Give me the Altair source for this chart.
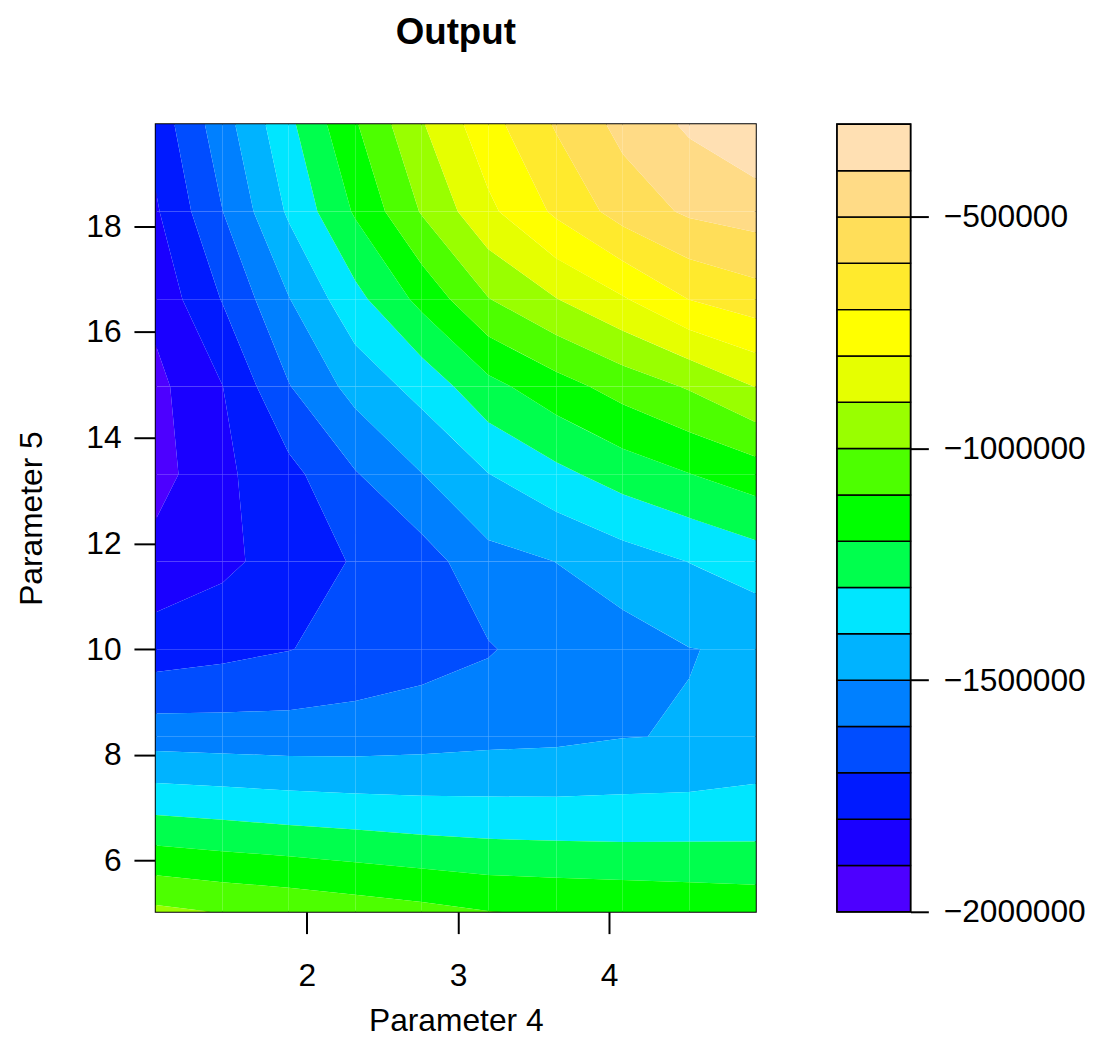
import altair as alt
import pandas as pd

# ---- data (10 x 10 grid) ----
x_vals = [1.00, 1.44, 1.88, 2.32, 2.76, 3.20, 3.65, 4.09, 4.53, 4.97]
y_vals = [5.03, 6.69, 8.34, 10.00, 11.66, 13.31, 14.97, 16.62, 18.28, 19.93]

# z_rows[j][i] : value at (x_vals[i], y_vals[j]), j = 0 is the bottom row
z_row0 = [-977000, -1005000, -1023000, -1048000, -1071000, -1098000, -1108000, -1116000, -1127000, -1138000]
z_row1 = [-1272000, -1287000, -1303000, -1317000, -1332000, -1341000, -1345000, -1347000, -1344000, -1340000]
z_row2 = [-1544000, -1550000, -1555000, -1553000, -1542000, -1528000, -1521000, -1502400, -1496000, -1470000]
z_row3 = [-1755000, -1730000, -1703000, -1668000, -1640000, -1608000, -1550000, -1545000, -1502000, -1490000]
z_row4 = [-1862000, -1823000, -1757000, -1691000, -1645000, -1532000, -1499000, -1445000, -1398000, -1348000]
z_row5 = [-1941000, -1821000, -1730000, -1607000, -1502000, -1402000, -1325000, -1257000, -1202000, -1150000]
z_row6 = [-1927000, -1802000, -1605000, -1464000, -1365000, -1230000, -1140000, -1060000, -990000, -897000]
z_row7 = [-1870000, -1695000, -1504000, -1330000, -1171000, -1004000, -903000, -810000, -698000, -645000]
z_row8 = [-1812000, -1602000, -1385000, -1188000, -992000, -822000, -682000, -558000, -484000, -455000]
z_row9 = [-1761000, -1543000, -1323000, -1109000, -908000, -736000, -590000, -470000, -384000, -310000]
z_rows = [z_row0, z_row1, z_row2, z_row3, z_row4, z_row5, z_row6, z_row7, z_row8, z_row9]

levels = [-2000000 + 100000 * k for k in range(18)]
band_colors = ["#4D00FF", "#1A00FF", "#001AFF", "#004DFF", "#0080FF", "#00B3FF",
               "#00E6FF", "#00FF4D", "#00FF00", "#4DFF00", "#99FF00", "#E6FF00",
               "#FFFF00", "#FFEA2D", "#FFDE59", "#FFDB86", "#FFE0B3"]
key_ticks = [-2000000, -1500000, -1000000, -500000]
x_ticks = [2, 3, 4]
y_ticks = [6, 8, 10, 12, 14, 16, 18]

FONT = "Liberation Sans"


def clip(poly, level, keep_above):
    out = []
    n = len(poly)
    for k in range(n):
        cur = poly[k]
        nxt = poly[(k + 1) % n]
        cin = cur[2] >= level if keep_above else cur[2] <= level
        nin = nxt[2] >= level if keep_above else nxt[2] <= level
        if cin:
            out.append(cur)
        if cin != nin:
            t = (level - cur[2]) / (nxt[2] - cur[2])
            out.append((cur[0] + t * (nxt[0] - cur[0]), cur[1] + t * (nxt[1] - cur[1]), level))
    return out


def poly_area(p):
    s = 0.0
    for k in range(len(p)):
        a, b = p[k], p[(k + 1) % len(p)]
        s += a[0] * b[1] - b[0] * a[1]
    return abs(s) / 2


rows = []
pid = 0
for j in range(len(y_vals) - 1):
    for i in range(len(x_vals) - 1):
        cell = [(x_vals[i], y_vals[j], z_rows[j][i]),
                (x_vals[i + 1], y_vals[j], z_rows[j][i + 1]),
                (x_vals[i + 1], y_vals[j + 1], z_rows[j + 1][i + 1]),
                (x_vals[i], y_vals[j + 1], z_rows[j + 1][i])]
        for k in range(len(levels) - 1):
            p = clip(cell, levels[k], True)
            if len(p) < 3:
                continue
            p = clip(p, levels[k + 1], False)
            if len(p) < 3 or poly_area(p) < 1e-9:
                continue
            xs = sorted(set(round(v[0], 9) for v in p))
            if len(xs) < 2:
                continue
            for xv in xs:
                ys = []
                for m in range(len(p)):
                    a, b = p[m], p[(m + 1) % len(p)]
                    if min(a[0], b[0]) - 1e-9 <= xv <= max(a[0], b[0]) + 1e-9:
                        if abs(b[0] - a[0]) < 1e-12:
                            ys += [a[1], b[1]]
                        else:
                            t = (xv - a[0]) / (b[0] - a[0])
                            ys.append(a[1] + t * (b[1] - a[1]))
                rows.append({"pid": pid, "band": k, "x": xv, "ylo": min(ys), "yhi": max(ys)})
            pid += 1

df = pd.DataFrame(rows)

color_scale = alt.Scale(domain=list(range(17)), range=band_colors)

main = alt.Chart(df).mark_area(interpolate="linear", strokeWidth=0).encode(
    x=alt.X("x:Q",
            scale=alt.Scale(domain=[x_vals[0], x_vals[-1]], nice=False, zero=False),
            axis=alt.Axis(values=x_ticks, title="Parameter 4", tickSize=22, tickWidth=2,
                          labelPadding=27, titlePadding=15, format="d")),
    y=alt.Y("ylo:Q",
            scale=alt.Scale(domain=[y_vals[0], y_vals[-1]], nice=False, zero=False),
            axis=alt.Axis(values=y_ticks, title="Parameter 5", tickSize=22, tickWidth=2,
                          labelPadding=13, titlePadding=38, format="d"),
            stack=None),
    y2="yhi:Q",
    color=alt.Color("band:O", scale=color_scale, legend=None),
    detail="pid:N",
).properties(
    width=605, height=794,
    title=alt.TitleParams("Output", fontSize=37, fontWeight="bold", font=FONT,
                          anchor="middle", offset=73, color="black"),
)

key_df = pd.DataFrame({
    "band": list(range(17)),
    "lo": levels[:-1],
    "hi": levels[1:],
    "xa": [0] * 17,
    "xb": [1] * 17,
})

key = alt.Chart(key_df).mark_rect(stroke="black", strokeWidth=1.5).encode(
    x=alt.X("xa:Q", scale=alt.Scale(domain=[0, 1], nice=False, zero=False), axis=None),
    x2="xb:Q",
    y=alt.Y("lo:Q", scale=alt.Scale(domain=[levels[0], levels[-1]], nice=False, zero=False),
            axis=alt.Axis(orient="right", values=key_ticks, format="d", title=None,
                          tickSize=18, tickWidth=2, labelPadding=15)),
    y2="hi:Q",
    color=alt.Color("band:O", scale=color_scale, legend=None),
).properties(width=74, height=794)

chart = alt.hconcat(main, key, spacing=79).properties(
    padding={"left": 6, "top": 0, "right": 2, "bottom": 2},
    background="white",
).configure_view(
    stroke="black", strokeWidth=2
).configure_axis(
    grid=False, domain=False, labelFont=FONT, titleFont=FONT, labelFontSize=32,
    titleFontSize=32, titleFontWeight="normal", labelColor="black", titleColor="black",
    tickColor="black",
)

chart.save("out.html", embed_options={"renderer": "svg", "actions": False})
